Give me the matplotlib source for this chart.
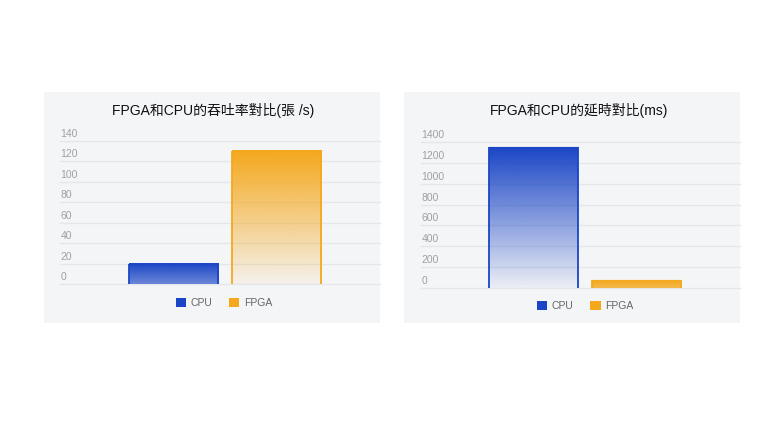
import numpy as np
import matplotlib
matplotlib.use("Agg")
import matplotlib.pyplot as plt
import matplotlib.transforms as mtrans
from matplotlib.patches import Rectangle, Patch
from matplotlib.colors import to_rgb

plt.rcParams['font.family'] = ['Liberation Sans', 'Noto Sans CJK TC', 'DejaVu Sans']

# ---- data ----
series = ["CPU", "FPGA"]
colors = ["#1a45c6", "#f5a81c"]

title1 = "FPGA和CPU的吞吐率對比(張 /s)"
throughput = [20, 130]
yticks1 = [0, 20, 40, 60, 80, 100, 120, 140]

title2 = "FPGA和CPU的延時對比(ms)"
latency = [1350, 70]
yticks2 = [0, 200, 400, 600, 800, 1000, 1200, 1400]

W, H = 768, 432
fig = plt.figure(figsize=(W / 100, H / 100), dpi=100)
fig.patch.set_facecolor("white")

panel_bg = "#f4f5f7"
grid_c = "#e4e6ea"


def px_rect(x0, y0, x1, y1):
    return [x0 / W, 1 - y1 / H, (x1 - x0) / W, (y1 - y0) / H]


def draw_panel(panel, axrect, title, title_xy, values, yticks, leg_anchor):
    x0, y0, x1, y1 = panel
    fig.patches.append(Rectangle((x0 / W, 1 - y1 / H), (x1 - x0) / W, (y1 - y0) / H,
                                 transform=fig.transFigure, facecolor=panel_bg,
                                 edgecolor="none", zorder=-5))
    ax = fig.add_axes(px_rect(*axrect))
    ax.set_zorder(2)
    ax.set_facecolor("none")
    for s in ax.spines.values():
        s.set_visible(False)
    ymax = yticks[-1]
    ax.set_ylim(0, ymax)
    ax.set_xlim(-1.1, 2.01)
    ax.set_xticks([])
    ax.set_yticks(yticks)
    ax.tick_params(axis='y', length=0, labelleft=False)
    ax.yaxis.grid(True, color=grid_c, linewidth=1.0, clip_on=False)
    ax.set_axisbelow(True)
    ytr = ax.get_yaxis_transform()
    off = mtrans.ScaledTranslation(0, 7 / 100, fig.dpi_scale_trans)
    for t in yticks:
        ax.text(0.002, t, f"{t}", transform=ytr + off, ha="left", va="center",
                fontsize=7.5, color="#a0a0a0")

    xs = np.arange(len(values))
    bars = ax.bar(xs, values, width=0.866, color="none", linewidth=0, zorder=2)
    for rect, c, v in zip(bars, colors, values):
        rgb = to_rgb(c)
        frac = v / ymax
        a_bot = max(0.03, 1 - 0.98 * np.sqrt(frac))
        n = 256
        img = np.zeros((n, 1, 4))
        img[:, 0, :3] = rgb
        img[:, 0, 3] = np.linspace(a_bot, 1.0, n)
        bx, bw, bh = rect.get_x(), rect.get_width(), rect.get_height()
        ax.imshow(img, extent=[bx, bx + bw, 0, bh], origin="lower",
                  aspect="auto", zorder=3, interpolation="bilinear")
        ax.vlines([bx, bx + bw], 0, bh, colors=[c], linewidth=1.3, zorder=4)
        ax.hlines([bh], bx, bx + bw, colors=[(*rgb, 0.45)], linewidth=1.0, zorder=4)
    ax.set_xlim(-1.1, 2.01)
    ax.set_ylim(0, ymax)

    fig.text(title_xy[0] / W, 1 - title_xy[1] / H, title, ha="center", va="center",
             fontsize=10, color="#111111")

    handles = [Patch(facecolor=c, edgecolor="none") for c in colors]
    ax.legend(handles, series, loc="center", bbox_to_anchor=leg_anchor,
              ncol=2, frameon=False, fontsize=7.5, handlelength=1.0,
              handleheight=1.0, handletextpad=0.45, columnspacing=1.6,
              labelcolor="#666666")
    return ax


draw_panel((44, 92, 380, 323), (60, 140.7, 380, 284), title1, (212.7, 110),
           throughput, yticks1, (0.5125, -0.13))
draw_panel((404, 92, 740, 323), (420.7, 142.3, 740, 287.7), title2, (579, 110),
           latency, yticks2, (0.5146, -0.126))

fig.savefig("out.png", dpi=100, facecolor="white")
